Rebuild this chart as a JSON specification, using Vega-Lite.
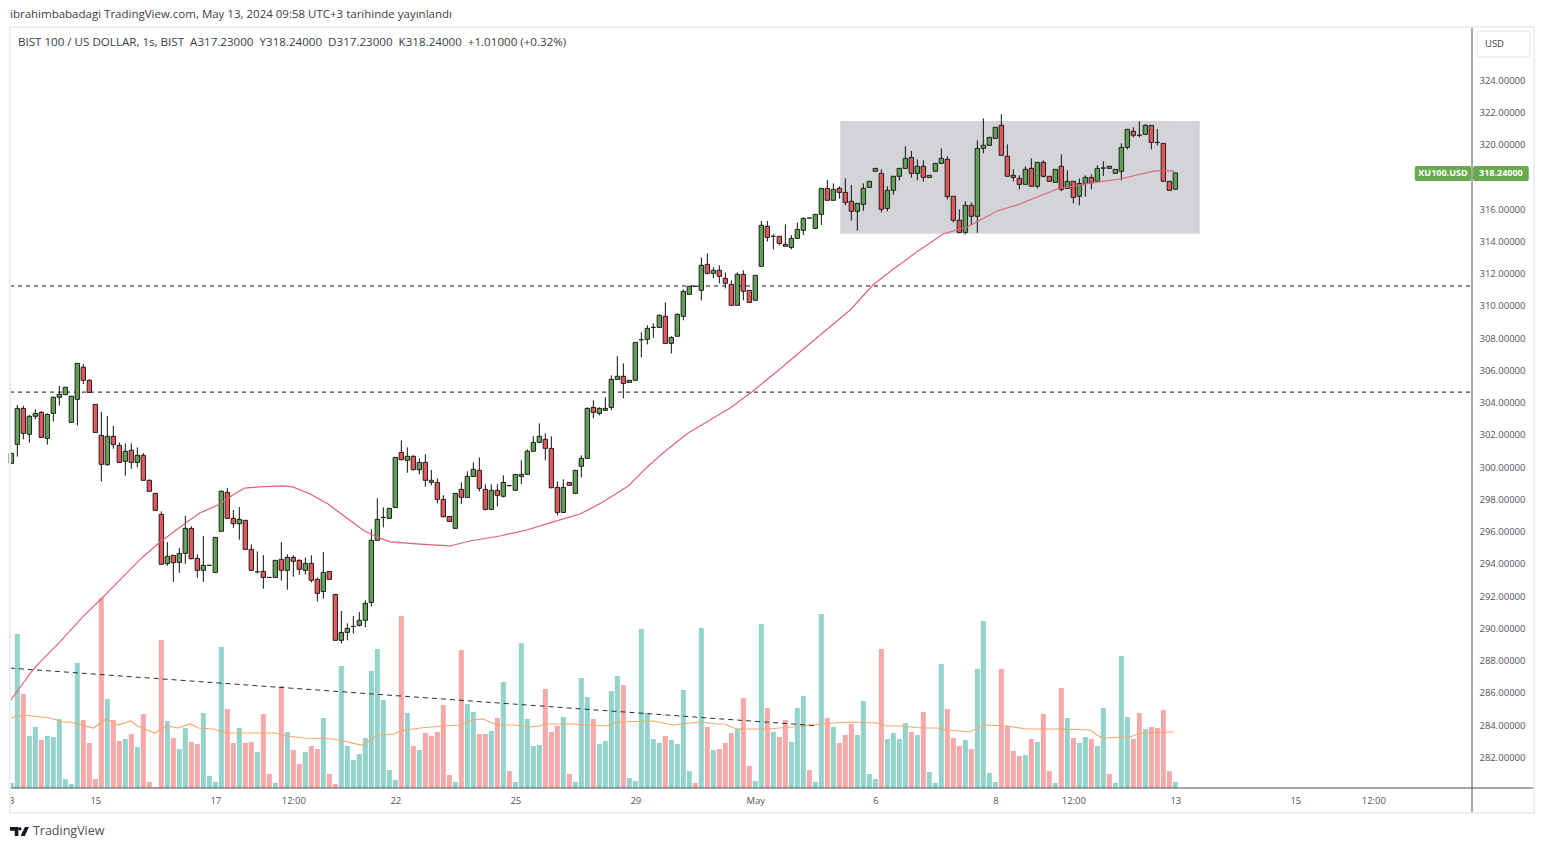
{
  "$schema": "https://vega.github.io/schema/vega-lite/v6.json",
  "width": 1462,
  "height": 760,
  "autosize": "none",
  "padding": {"left": 10, "top": 28, "right": 72, "bottom": 61},
  "background": "white",
  "config": {"view": {"stroke": null}, "font": "Open Sans"},
  "datasets": {
    "candles": [
      {"i":0,"o":300.23,"h":300.85,"l":300.23,"c":300.85,"v":5,"vd":"u"},
      {"i":1,"o":301.41,"h":303.85,"l":300.65,"c":303.64,"v":154,"vd":"u"},
      {"i":2,"o":303.64,"h":303.81,"l":301.72,"c":302.09,"v":94,"vd":"d"},
      {"i":3,"o":302.03,"h":303.23,"l":301.51,"c":303.15,"v":52,"vd":"u"},
      {"i":4,"o":303.15,"h":303.58,"l":302.96,"c":303.33,"v":61,"vd":"u"},
      {"i":5,"o":303.39,"h":303.48,"l":301.84,"c":301.84,"v":48,"vd":"d"},
      {"i":6,"o":301.78,"h":303.33,"l":301.39,"c":303.27,"v":52,"vd":"u"},
      {"i":7,"o":303.33,"h":304.37,"l":302.82,"c":304.33,"v":51,"vd":"u"},
      {"i":8,"o":304.33,"h":305.03,"l":303.81,"c":304.51,"v":69,"vd":"u"},
      {"i":9,"o":304.49,"h":304.95,"l":304.49,"c":304.95,"v":9,"vd":"u"},
      {"i":10,"o":302.77,"h":304.39,"l":302.77,"c":304.39,"v":4,"vd":"u"},
      {"i":11,"o":304.2,"h":306.43,"l":302.57,"c":306.43,"v":125,"vd":"u"},
      {"i":12,"o":306.19,"h":306.39,"l":305.15,"c":305.38,"v":68,"vd":"d"},
      {"i":13,"o":305.38,"h":305.44,"l":304.63,"c":304.63,"v":45,"vd":"d"},
      {"i":14,"o":303.89,"h":303.89,"l":302.15,"c":302.15,"v":9,"vd":"d"},
      {"i":15,"o":301.97,"h":303.42,"l":299.1,"c":300.17,"v":190,"vd":"d"},
      {"i":16,"o":300.15,"h":303.17,"l":300.09,"c":301.91,"v":89,"vd":"u"},
      {"i":17,"o":301.91,"h":302.55,"l":301.14,"c":301.39,"v":68,"vd":"d"},
      {"i":18,"o":301.35,"h":301.53,"l":300.29,"c":300.29,"v":47,"vd":"d"},
      {"i":19,"o":300.36,"h":301.47,"l":299.47,"c":300.98,"v":49,"vd":"u"},
      {"i":20,"o":301.04,"h":301.47,"l":299.9,"c":300.29,"v":54,"vd":"d"},
      {"i":21,"o":300.29,"h":301.22,"l":299.98,"c":300.73,"v":41,"vd":"u"},
      {"i":22,"o":300.73,"h":300.87,"l":299.18,"c":299.18,"v":74,"vd":"d"},
      {"i":23,"o":299.18,"h":299.24,"l":298.5,"c":298.5,"v":6,"vd":"d"},
      {"i":24,"o":298.37,"h":298.37,"l":297.32,"c":297.32,"v":1,"vd":"d"},
      {"i":25,"o":297.07,"h":297.26,"l":293.97,"c":293.97,"v":148,"vd":"d"},
      {"i":26,"o":294.01,"h":295.35,"l":293.89,"c":294.47,"v":67,"vd":"u"},
      {"i":27,"o":294.53,"h":294.53,"l":292.89,"c":294.07,"v":50,"vd":"d"},
      {"i":28,"o":294.09,"h":294.98,"l":293.45,"c":294.65,"v":39,"vd":"u"},
      {"i":29,"o":294.65,"h":296.97,"l":294.01,"c":296.2,"v":60,"vd":"u"},
      {"i":30,"o":296.2,"h":296.33,"l":294.28,"c":294.32,"v":46,"vd":"d"},
      {"i":31,"o":294.34,"h":294.59,"l":293.14,"c":293.6,"v":44,"vd":"d"},
      {"i":32,"o":293.6,"h":295.73,"l":292.89,"c":293.91,"v":75,"vd":"u"},
      {"i":33,"o":293.91,"h":293.91,"l":293.91,"c":293.91,"v":12,"vd":"u"},
      {"i":34,"o":293.47,"h":295.64,"l":293.47,"c":295.64,"v":6,"vd":"u"},
      {"i":35,"o":296.02,"h":298.56,"l":296.02,"c":298.5,"v":141,"vd":"u"},
      {"i":36,"o":298.43,"h":298.7,"l":296.82,"c":296.82,"v":79,"vd":"d"},
      {"i":37,"o":296.82,"h":297.34,"l":296.24,"c":296.49,"v":45,"vd":"d"},
      {"i":38,"o":296.49,"h":297.52,"l":295.5,"c":296.76,"v":60,"vd":"u"},
      {"i":39,"o":296.7,"h":296.7,"l":294.9,"c":294.9,"v":45,"vd":"d"},
      {"i":40,"o":294.9,"h":295.21,"l":293.6,"c":293.6,"v":46,"vd":"d"},
      {"i":41,"o":293.51,"h":294.77,"l":293.41,"c":293.51,"v":36,"vd":"u"},
      {"i":42,"o":293.53,"h":294.55,"l":292.46,"c":293.16,"v":74,"vd":"d"},
      {"i":43,"o":293.16,"h":293.16,"l":293.16,"c":293.16,"v":14,"vd":"d"},
      {"i":44,"o":293.16,"h":294.22,"l":293.16,"c":294.22,"v":5,"vd":"u"},
      {"i":45,"o":294.28,"h":295.35,"l":292.96,"c":293.6,"v":102,"vd":"d"},
      {"i":46,"o":293.6,"h":294.59,"l":292.4,"c":294.4,"v":56,"vd":"u"},
      {"i":47,"o":294.4,"h":294.53,"l":293.2,"c":294.16,"v":38,"vd":"d"},
      {"i":48,"o":294.22,"h":294.28,"l":293.33,"c":293.66,"v":24,"vd":"d"},
      {"i":49,"o":293.6,"h":294.4,"l":293.33,"c":294.03,"v":36,"vd":"u"},
      {"i":50,"o":294.03,"h":294.53,"l":292.85,"c":292.98,"v":42,"vd":"d"},
      {"i":51,"o":293.04,"h":293.16,"l":291.67,"c":292.17,"v":39,"vd":"d"},
      {"i":52,"o":292.29,"h":294.73,"l":291.84,"c":293.47,"v":70,"vd":"u"},
      {"i":53,"o":293.53,"h":293.53,"l":293.04,"c":293.04,"v":14,"vd":"d"},
      {"i":54,"o":292.11,"h":292.11,"l":289.26,"c":289.26,"v":4,"vd":"d"},
      {"i":55,"o":289.26,"h":291.08,"l":289.07,"c":289.75,"v":122,"vd":"u"},
      {"i":56,"o":289.75,"h":290.31,"l":289.26,"c":290,"v":42,"vd":"u"},
      {"i":57,"o":290.12,"h":290.77,"l":289.69,"c":290.12,"v":28,"vd":"u"},
      {"i":58,"o":290.19,"h":291.01,"l":290.12,"c":290.5,"v":34,"vd":"u"},
      {"i":59,"o":290.5,"h":291.74,"l":290.06,"c":291.55,"v":50,"vd":"u"},
      {"i":60,"o":291.61,"h":296.14,"l":291.36,"c":295.46,"v":117,"vd":"u"},
      {"i":61,"o":295.46,"h":298.06,"l":295.46,"c":296.76,"v":139,"vd":"u"},
      {"i":62,"o":296.88,"h":297.5,"l":296.26,"c":296.88,"v":88,"vd":"u"},
      {"i":63,"o":296.82,"h":297.44,"l":296.82,"c":297.44,"v":18,"vd":"u"},
      {"i":64,"o":297.5,"h":300.6,"l":297.5,"c":300.6,"v":8,"vd":"u"},
      {"i":65,"o":300.91,"h":301.66,"l":300.42,"c":300.46,"v":172,"vd":"d"},
      {"i":66,"o":300.42,"h":301.22,"l":299.65,"c":300.67,"v":75,"vd":"u"},
      {"i":67,"o":300.67,"h":300.73,"l":299.8,"c":299.84,"v":42,"vd":"d"},
      {"i":68,"o":299.84,"h":300.54,"l":299.55,"c":300.29,"v":38,"vd":"u"},
      {"i":69,"o":300.29,"h":300.79,"l":298.78,"c":299.18,"v":55,"vd":"d"},
      {"i":70,"o":299.18,"h":299.82,"l":298.87,"c":299.05,"v":52,"vd":"d"},
      {"i":71,"o":299.05,"h":299.3,"l":297.75,"c":298,"v":56,"vd":"d"},
      {"i":72,"o":298,"h":298.25,"l":296.88,"c":296.92,"v":83,"vd":"d"},
      {"i":73,"o":296.94,"h":296.94,"l":296.63,"c":296.63,"v":13,"vd":"d"},
      {"i":74,"o":296.2,"h":298.37,"l":296.2,"c":298.37,"v":6,"vd":"u"},
      {"i":75,"o":298.62,"h":299.05,"l":297.71,"c":298.12,"v":138,"vd":"d"},
      {"i":76,"o":298.12,"h":299.74,"l":298.12,"c":299.42,"v":84,"vd":"u"},
      {"i":77,"o":299.42,"h":300.29,"l":299.42,"c":299.86,"v":76,"vd":"u"},
      {"i":78,"o":299.8,"h":300.6,"l":298.49,"c":298.68,"v":54,"vd":"d"},
      {"i":79,"o":298.62,"h":298.93,"l":297.32,"c":297.38,"v":54,"vd":"d"},
      {"i":80,"o":297.38,"h":298.93,"l":297.38,"c":298.56,"v":57,"vd":"u"},
      {"i":81,"o":298.56,"h":298.93,"l":297.56,"c":298.25,"v":70,"vd":"d"},
      {"i":82,"o":298.19,"h":299.49,"l":298.12,"c":299.05,"v":106,"vd":"u"},
      {"i":83,"o":298.85,"h":298.85,"l":298.85,"c":298.85,"v":17,"vd":"d"},
      {"i":84,"o":298.56,"h":299.55,"l":298.56,"c":299.55,"v":6,"vd":"u"},
      {"i":85,"o":299.42,"h":300.42,"l":298.95,"c":299.55,"v":145,"vd":"u"},
      {"i":86,"o":299.55,"h":301.1,"l":299.55,"c":300.98,"v":69,"vd":"u"},
      {"i":87,"o":300.98,"h":301.91,"l":300.98,"c":301.53,"v":42,"vd":"u"},
      {"i":88,"o":301.53,"h":302.71,"l":301.47,"c":301.91,"v":43,"vd":"u"},
      {"i":89,"o":301.72,"h":302.09,"l":300.42,"c":301.16,"v":99,"vd":"d"},
      {"i":90,"o":301.16,"h":301.91,"l":298.68,"c":298.72,"v":56,"vd":"d"},
      {"i":91,"o":298.74,"h":299.11,"l":297.01,"c":297.19,"v":62,"vd":"d"},
      {"i":92,"o":297.19,"h":299.24,"l":297.19,"c":298.74,"v":71,"vd":"u"},
      {"i":93,"o":299.05,"h":299.05,"l":298.87,"c":298.87,"v":14,"vd":"d"},
      {"i":94,"o":298.37,"h":299.8,"l":298.37,"c":299.8,"v":6,"vd":"u"},
      {"i":95,"o":300.05,"h":300.73,"l":299.36,"c":300.54,"v":110,"vd":"u"},
      {"i":96,"o":300.54,"h":303.7,"l":300.54,"c":303.64,"v":91,"vd":"u"},
      {"i":97,"o":303.7,"h":304.14,"l":303.02,"c":303.39,"v":69,"vd":"d"},
      {"i":98,"o":303.33,"h":303.7,"l":303.21,"c":303.64,"v":44,"vd":"u"},
      {"i":99,"o":303.52,"h":304.32,"l":303.52,"c":303.64,"v":47,"vd":"u"},
      {"i":100,"o":303.7,"h":305.69,"l":303.52,"c":305.44,"v":97,"vd":"u"},
      {"i":101,"o":305.44,"h":306.87,"l":305.44,"c":305.63,"v":112,"vd":"u"},
      {"i":102,"o":305.63,"h":306.43,"l":304.26,"c":305.19,"v":103,"vd":"d"},
      {"i":103,"o":305.25,"h":305.38,"l":305.25,"c":305.38,"v":10,"vd":"u"},
      {"i":104,"o":305.38,"h":307.73,"l":305.38,"c":307.73,"v":7,"vd":"u"},
      {"i":105,"o":307.9,"h":308.35,"l":306.8,"c":307.9,"v":159,"vd":"u"},
      {"i":106,"o":307.92,"h":308.79,"l":307.61,"c":308.6,"v":75,"vd":"u"},
      {"i":107,"o":308.66,"h":308.91,"l":308.02,"c":308.66,"v":49,"vd":"u"},
      {"i":108,"o":308.66,"h":309.47,"l":308.66,"c":309.41,"v":45,"vd":"u"},
      {"i":109,"o":309.35,"h":310.21,"l":307.67,"c":307.67,"v":52,"vd":"d"},
      {"i":110,"o":307.67,"h":308.11,"l":307.05,"c":308.04,"v":48,"vd":"u"},
      {"i":111,"o":308.11,"h":309.53,"l":308.11,"c":309.47,"v":44,"vd":"u"},
      {"i":112,"o":309.35,"h":311.02,"l":309.1,"c":310.9,"v":98,"vd":"u"},
      {"i":113,"o":310.71,"h":311.21,"l":310.71,"c":311.21,"v":17,"vd":"u"},
      {"i":114,"o":311.21,"h":311.21,"l":311.21,"c":311.21,"v":5,"vd":"d"},
      {"i":115,"o":310.96,"h":313,"l":310.34,"c":312.51,"v":160,"vd":"u"},
      {"i":116,"o":312.57,"h":313.25,"l":311.95,"c":312.01,"v":61,"vd":"d"},
      {"i":117,"o":312.01,"h":312.39,"l":311.72,"c":312.2,"v":38,"vd":"u"},
      {"i":118,"o":312.2,"h":312.51,"l":311.39,"c":311.83,"v":39,"vd":"d"},
      {"i":119,"o":311.7,"h":312.07,"l":311.08,"c":311.39,"v":45,"vd":"d"},
      {"i":120,"o":311.33,"h":311.58,"l":310.03,"c":310.03,"v":55,"vd":"d"},
      {"i":121,"o":310.03,"h":312.07,"l":310.03,"c":311.95,"v":59,"vd":"u"},
      {"i":122,"o":311.95,"h":312.2,"l":310.34,"c":310.9,"v":90,"vd":"d"},
      {"i":123,"o":310.96,"h":310.96,"l":310.21,"c":310.21,"v":22,"vd":"d"},
      {"i":124,"o":310.34,"h":311.89,"l":310.34,"c":311.89,"v":7,"vd":"u"},
      {"i":125,"o":312.45,"h":315.26,"l":312.45,"c":314.99,"v":164,"vd":"u"},
      {"i":126,"o":314.93,"h":315.26,"l":313.98,"c":314.24,"v":80,"vd":"d"},
      {"i":127,"o":314.31,"h":314.43,"l":313.5,"c":314.31,"v":56,"vd":"u"},
      {"i":128,"o":314.31,"h":314.31,"l":313.75,"c":313.87,"v":51,"vd":"d"},
      {"i":129,"o":313.81,"h":315.05,"l":313.69,"c":313.69,"v":68,"vd":"d"},
      {"i":130,"o":313.62,"h":314.39,"l":313.5,"c":314.18,"v":46,"vd":"u"},
      {"i":131,"o":314.18,"h":315.17,"l":314.18,"c":314.74,"v":80,"vd":"u"},
      {"i":132,"o":314.68,"h":315.48,"l":314.39,"c":315.42,"v":92,"vd":"u"},
      {"i":133,"o":315.44,"h":315.44,"l":315.44,"c":315.44,"v":18,"vd":"d"},
      {"i":134,"o":314.8,"h":315.67,"l":314.8,"c":315.67,"v":6,"vd":"u"},
      {"i":135,"o":315.67,"h":317.28,"l":315.01,"c":317.28,"v":174,"vd":"u"},
      {"i":136,"o":317.28,"h":317.8,"l":316.54,"c":316.54,"v":70,"vd":"d"},
      {"i":137,"o":316.54,"h":317.59,"l":316.54,"c":317.22,"v":61,"vd":"u"},
      {"i":138,"o":317.28,"h":317.41,"l":316.64,"c":317.03,"v":45,"vd":"d"},
      {"i":139,"o":317.03,"h":317.9,"l":316.23,"c":316.41,"v":53,"vd":"d"},
      {"i":140,"o":316.48,"h":317.49,"l":315.28,"c":315.86,"v":64,"vd":"d"},
      {"i":141,"o":315.86,"h":316.35,"l":314.66,"c":316.35,"v":53,"vd":"u"},
      {"i":142,"o":316.29,"h":317.59,"l":315.9,"c":317.28,"v":87,"vd":"u"},
      {"i":143,"o":317.34,"h":317.72,"l":317.34,"c":317.72,"v":14,"vd":"u"},
      {"i":144,"o":318.34,"h":318.52,"l":318.34,"c":318.52,"v":9,"vd":"u"},
      {"i":145,"o":318.21,"h":318.46,"l":315.79,"c":315.98,"v":139,"vd":"d"},
      {"i":146,"o":316.04,"h":317.41,"l":315.86,"c":317.16,"v":49,"vd":"u"},
      {"i":147,"o":317.16,"h":318.03,"l":316.89,"c":318.03,"v":55,"vd":"u"},
      {"i":148,"o":318.03,"h":318.52,"l":317.78,"c":318.52,"v":49,"vd":"u"},
      {"i":149,"o":318.52,"h":319.89,"l":318.52,"c":319.14,"v":65,"vd":"u"},
      {"i":150,"o":319.2,"h":319.6,"l":317.94,"c":318.21,"v":56,"vd":"d"},
      {"i":151,"o":318.21,"h":319.08,"l":317.78,"c":318.65,"v":53,"vd":"u"},
      {"i":152,"o":318.65,"h":319.02,"l":317.7,"c":317.96,"v":76,"vd":"d"},
      {"i":153,"o":317.96,"h":318.09,"l":317.96,"c":318.09,"v":16,"vd":"u"},
      {"i":154,"o":318.34,"h":318.83,"l":318.34,"c":318.83,"v":5,"vd":"u"},
      {"i":155,"o":318.83,"h":319.76,"l":318.83,"c":319.14,"v":124,"vd":"u"},
      {"i":156,"o":319.08,"h":319.27,"l":316.6,"c":316.77,"v":79,"vd":"d"},
      {"i":157,"o":316.79,"h":316.79,"l":315.17,"c":315.3,"v":50,"vd":"d"},
      {"i":158,"o":315.3,"h":315.98,"l":314.55,"c":314.55,"v":42,"vd":"d"},
      {"i":159,"o":314.55,"h":316.48,"l":314.43,"c":316.23,"v":48,"vd":"u"},
      {"i":160,"o":316.23,"h":316.41,"l":314.99,"c":315.55,"v":39,"vd":"d"},
      {"i":161,"o":315.55,"h":320.26,"l":314.53,"c":319.76,"v":119,"vd":"u"},
      {"i":162,"o":319.76,"h":321.62,"l":319.45,"c":319.95,"v":167,"vd":"u"},
      {"i":163,"o":319.95,"h":320.44,"l":319.95,"c":320.44,"v":15,"vd":"u"},
      {"i":164,"o":320.38,"h":321.07,"l":320.38,"c":321.07,"v":6,"vd":"u"},
      {"i":165,"o":321.19,"h":321.87,"l":319.33,"c":319.33,"v":119,"vd":"d"},
      {"i":166,"o":319.27,"h":320.01,"l":318.03,"c":318.03,"v":62,"vd":"d"},
      {"i":167,"o":318.09,"h":318.46,"l":317.72,"c":317.96,"v":37,"vd":"d"},
      {"i":168,"o":317.9,"h":318.09,"l":317.22,"c":317.53,"v":32,"vd":"d"},
      {"i":169,"o":317.53,"h":318.65,"l":317.53,"c":318.46,"v":33,"vd":"u"},
      {"i":170,"o":318.52,"h":319.14,"l":317.41,"c":317.41,"v":49,"vd":"d"},
      {"i":171,"o":317.41,"h":318.89,"l":317.28,"c":318.89,"v":46,"vd":"u"},
      {"i":172,"o":318.89,"h":319.02,"l":317.96,"c":318.03,"v":74,"vd":"d"},
      {"i":173,"o":318.03,"h":318.03,"l":317.72,"c":317.72,"v":17,"vd":"d"},
      {"i":174,"o":317.65,"h":318.46,"l":317.65,"c":318.46,"v":5,"vd":"u"},
      {"i":175,"o":318.65,"h":319.39,"l":317.1,"c":317.22,"v":100,"vd":"d"},
      {"i":176,"o":317.28,"h":318.4,"l":317.28,"c":317.72,"v":70,"vd":"u"},
      {"i":177,"o":317.72,"h":317.72,"l":316.35,"c":316.72,"v":50,"vd":"d"},
      {"i":178,"o":316.79,"h":317.9,"l":316.23,"c":317.59,"v":45,"vd":"u"},
      {"i":179,"o":317.59,"h":318.09,"l":316.77,"c":317.96,"v":51,"vd":"u"},
      {"i":180,"o":317.96,"h":318.15,"l":317.22,"c":317.63,"v":49,"vd":"d"},
      {"i":181,"o":317.72,"h":318.71,"l":317.72,"c":318.52,"v":42,"vd":"u"},
      {"i":182,"o":318.54,"h":318.96,"l":318.05,"c":318.54,"v":80,"vd":"u"},
      {"i":183,"o":318.65,"h":318.65,"l":318.52,"c":318.52,"v":14,"vd":"d"},
      {"i":184,"o":318.21,"h":318.46,"l":318.21,"c":318.46,"v":5,"vd":"u"},
      {"i":185,"o":318.34,"h":320.07,"l":317.78,"c":319.82,"v":132,"vd":"u"},
      {"i":186,"o":319.82,"h":320.94,"l":319.7,"c":320.94,"v":71,"vd":"u"},
      {"i":187,"o":320.82,"h":321.07,"l":320.45,"c":320.57,"v":49,"vd":"d"},
      {"i":188,"o":320.57,"h":321.44,"l":320.45,"c":320.57,"v":75,"vd":"d"},
      {"i":189,"o":320.63,"h":321.25,"l":320.63,"c":321.19,"v":59,"vd":"u"},
      {"i":190,"o":321.19,"h":321.19,"l":319.7,"c":320.13,"v":61,"vd":"d"},
      {"i":191,"o":320.13,"h":320.96,"l":319.95,"c":320.13,"v":60,"vd":"d"},
      {"i":192,"o":320.07,"h":320.07,"l":317.72,"c":317.72,"v":78,"vd":"d"},
      {"i":193,"o":317.72,"h":317.72,"l":317.16,"c":317.16,"v":17,"vd":"d"},
      {"i":194,"o":317.23,"h":318.24,"l":317.23,"c":318.24,"v":6,"vd":"u"}
    ],
    "ma": [
      {"i":-0.1,"p":285.56},{"i":3.6,"p":287.42},{"i":4.8,"p":287.92},{"i":8.1,"p":289.16},{"i":11.9,"p":290.71},
      {"i":14.8,"p":291.76},{"i":18.6,"p":293.19},{"i":21.9,"p":294.43},{"i":24.8,"p":295.36},{"i":28.6,"p":296.41},
      {"i":31.4,"p":297.15},{"i":34.8,"p":297.71},{"i":36.9,"p":298.27},{"i":38.9,"p":298.7},{"i":41.4,"p":298.77},
      {"i":45.3,"p":298.83},{"i":46.9,"p":298.77},{"i":49.8,"p":298.33},{"i":52.8,"p":297.71},{"i":55.9,"p":296.84},
      {"i":58.6,"p":296.1},{"i":60.9,"p":295.67},{"i":63.1,"p":295.36},{"i":68.1,"p":295.23},{"i":73.1,"p":295.11},
      {"i":76.4,"p":295.42},{"i":81.4,"p":295.73},{"i":85.9,"p":296.1},{"i":90.3,"p":296.6},{"i":94.8,"p":297.09},
      {"i":98.6,"p":297.84},{"i":102.8,"p":298.83},{"i":106,"p":300.01},{"i":109,"p":301},{"i":112.8,"p":302.11},
      {"i":119.8,"p":303.66},{"i":123.4,"p":304.66},{"i":128.1,"p":306.08},{"i":134.8,"p":308.19},{"i":139.8,"p":309.74},
      {"i":143.6,"p":311.29},{"i":146.8,"p":312.22},{"i":150.9,"p":313.34},{"i":155.3,"p":314.45},{"i":159.3,"p":314.89},
      {"i":164.3,"p":315.88},{"i":168.1,"p":316.31},{"i":174.3,"p":317.24},{"i":179.8,"p":317.61},{"i":184.8,"p":317.86},
      {"i":187.6,"p":318.11},{"i":190.6,"p":318.36},{"i":193.8,"p":318.36}
    ],
    "volma": [
      {"i":0,"v":70},{"i":2,"v":73},{"i":6.4,"v":70},{"i":8.7,"v":66},{"i":9.8,"v":66},{"i":13.7,"v":60},{"i":15.8,"v":69},
      {"i":17.8,"v":63},{"i":19.9,"v":67},{"i":21,"v":62},{"i":23.9,"v":55},{"i":25.9,"v":62},{"i":27.8,"v":60},{"i":29.8,"v":64},
      {"i":31.2,"v":60},{"i":33.7,"v":59},{"i":35.9,"v":55},{"i":42,"v":55},{"i":43.9,"v":55},{"i":45.9,"v":52},{"i":48.7,"v":50},
      {"i":53.7,"v":49},{"i":58.4,"v":43},{"i":59.5,"v":46},{"i":60.9,"v":53},{"i":63.7,"v":54},{"i":64.8,"v":57},{"i":68.1,"v":60},
      {"i":72,"v":62},{"i":74.8,"v":63},{"i":76.7,"v":68},{"i":78.7,"v":69},{"i":80.9,"v":63},{"i":83.9,"v":63},{"i":86.4,"v":61},
      {"i":88.1,"v":62},{"i":88.9,"v":64},{"i":93.7,"v":64},{"i":99.2,"v":62},{"i":100.9,"v":66},{"i":107,"v":67},{"i":110.3,"v":63},
      {"i":114.8,"v":66},{"i":117.6,"v":64},{"i":118.9,"v":64},{"i":120.9,"v":59},{"i":125.9,"v":59},{"i":130.3,"v":61},{"i":131.4,"v":62},
      {"i":137,"v":65},{"i":139.8,"v":66},{"i":144.2,"v":65},{"i":145.9,"v":62},{"i":148.1,"v":62},{"i":151.7,"v":60},{"i":154.2,"v":60},
      {"i":155.9,"v":58},{"i":159.8,"v":56},{"i":162,"v":63},{"i":165.9,"v":62},{"i":169.2,"v":59},{"i":174.2,"v":59},{"i":179.8,"v":58},
      {"i":181.7,"v":50},{"i":186.4,"v":51},{"i":188.1,"v":55},{"i":193.7,"v":56}
    ]
  },
  "encoding": {
    "x": {
      "field": "i",
      "type": "quantitative",
      "title": null,
      "scale": {"domain": [-0.222, 243.44], "nice": false, "zero": false, "padding": 0},
      "axis": {
        "values": [0, 14, 34, 47, 64, 84, 104, 124, 144, 164, 177, 194, 214, 227],
        "labelExpr": "{'0':'3','14':'15','34':'17','47':'12:00','64':'22','84':'25','104':'29','124':'May','144':'6','164':'8','177':'12:00','194':'13','214':'15','227':'12:00'}[datum.value]",
        "domain": false,
        "ticks": false,
        "grid": false,
        "labelFontSize": 9.5,
        "labelColor": "#50535e",
        "labelPadding": 7,
        "labelFlush": false,
        "labelOverlap": false
      }
    }
  },
  "layer": [
    {
      "layer": [
        {
          "data": {"name": "candles"},
          "mark": {"type": "bar", "size": 5, "orient": "vertical"},
          "encoding": {
            "y": {"field": "v", "type": "quantitative", "stack": null, "scale": {"domain": [0, 760], "nice": false}, "axis": null},
            "color": {"field": "vd", "type": "nominal", "legend": null, "scale": {"domain": ["u", "d"], "range": ["#94d3cb", "#f6a9a9"]}}
          }
        },
        {
          "data": {"name": "volma"},
          "mark": {"type": "line", "color": "#f7a66b", "strokeWidth": 1.2},
          "encoding": {
            "y": {"field": "v", "type": "quantitative", "scale": {"domain": [0, 760], "nice": false}, "axis": null}
          }
        }
      ]
    },
    {
      "layer": [
        {
          "data": {"values": [{"i": 138.15, "i2": 198.05, "p": 321.46, "p2": 314.47}]},
          "mark": {"type": "rect", "color": "#d2d4d8"},
          "encoding": {
            "x2": {"field": "i2"},
            "y": {
              "field": "p",
              "type": "quantitative",
              "title": null,
              "scale": {"domain": [280.104, 327.224], "nice": false, "zero": false},
              "axis": {
                "orient": "right",
                "values": [282, 284, 286, 288, 290, 292, 294, 296, 298, 300, 302, 304, 306, 308, 310, 312, 314, 316, 320, 322, 324],
                "tickCount": 40,
                "format": ".5f",
                "domain": false,
                "ticks": false,
                "grid": false,
                "labelFontSize": 9.5,
                "labelColor": "#50535e",
                "labelPadding": 7,
                "labelOverlap": false
              }
            },
            "y2": {"field": "p2"}
          }
        },
        {
          "data": {"values": [{"i": -0.222, "i2": 243.44, "p": 311.23}, {"i": -0.222, "i2": 243.44, "p": 304.65}]},
          "mark": {"type": "rule", "color": "#111111", "strokeWidth": 1, "strokeDash": [4, 4]},
          "encoding": {
            "x2": {"field": "i2"},
            "y": {"field": "p", "type": "quantitative", "title": null, "scale": {"domain": [280.104, 327.224], "nice": false, "zero": false}}
          }
        },
        {
          "data": {"values": [{"i": -0.222, "p": 287.54}, {"i": 134, "p": 283.97}]},
          "mark": {"type": "line", "color": "#2a2e39", "strokeWidth": 1, "strokeDash": [5, 4]},
          "encoding": {
            "y": {"field": "p", "type": "quantitative", "title": null, "scale": {"domain": [280.104, 327.224], "nice": false, "zero": false}}
          }
        },
        {
          "data": {"name": "candles"},
          "mark": {"type": "rule", "color": "#111111", "strokeWidth": 1},
          "encoding": {
            "y": {"field": "l", "type": "quantitative", "title": null, "scale": {"domain": [280.104, 327.224], "nice": false, "zero": false}},
            "y2": {"field": "h"}
          }
        },
        {
          "data": {"name": "candles"},
          "mark": {"type": "bar", "size": 4.4, "orient": "vertical", "stroke": "#111111", "strokeWidth": 0.9},
          "encoding": {
            "y": {"field": "o", "type": "quantitative", "title": null, "scale": {"domain": [280.104, 327.224], "nice": false, "zero": false}},
            "y2": {"field": "c"},
            "fill": {"condition": {"test": "datum.c >= datum.o", "value": "#62a055"}, "value": "#e25858"}
          }
        },
        {
          "data": {"name": "ma"},
          "mark": {"type": "line", "color": "#e2607a", "strokeWidth": 1.2},
          "encoding": {
            "y": {"field": "p", "type": "quantitative", "title": null, "scale": {"domain": [280.104, 327.224], "nice": false, "zero": false}}
          }
        },
        {
          "data": {"values": [{"i": -0.222, "p": 280.104, "i2": 253.8}]},
          "mark": {"type": "rule", "color": "#50535e", "strokeWidth": 1},
          "encoding": {
            "x2": {"field": "i2"},
            "y": {"field": "p", "type": "quantitative", "title": null, "scale": {"domain": [280.104, 327.224], "nice": false, "zero": false}}
          }
        },
        {
          "data": {"values": [{"i": 243.44, "p": 327.224, "p2": 278.55}]},
          "mark": {"type": "rule", "color": "#50535e", "strokeWidth": 1},
          "encoding": {
            "y": {"field": "p", "type": "quantitative", "title": null, "scale": {"domain": [280.104, 327.224], "nice": false, "zero": false}},
            "y2": {"field": "p2"}
          }
        },
        {
          "data": {"values": [
            {"i": -0.222, "i2": 253.8, "p": 327.29, "p2": 278.55, "k": "frame"}
          ]},
          "mark": {"type": "rect", "fillOpacity": 0, "stroke": "#eceef1", "strokeWidth": 2},
          "encoding": {
            "x2": {"field": "i2"},
            "y": {"field": "p", "type": "quantitative", "title": null, "scale": {"domain": [280.104, 327.224], "nice": false, "zero": false}},
            "y2": {"field": "p2"}
          }
        },
        {
          "data": {"values": [{"i": 244.3, "i2": 253.1, "p": 327.04, "p2": 325.43}]},
          "mark": {"type": "rect", "fill": "white", "stroke": "#ecedf0", "strokeWidth": 1.5, "cornerRadius": 3},
          "encoding": {
            "x2": {"field": "i2"},
            "y": {"field": "p", "type": "quantitative", "title": null, "scale": {"domain": [280.104, 327.224], "nice": false, "zero": false}},
            "y2": {"field": "p2"}
          }
        },
        {
          "data": {"values": [
            {"i": 233.9, "i2": 243.3, "p": 318.67, "p2": 317.74},
            {"i": 243.6, "i2": 252.9, "p": 318.67, "p2": 317.74}
          ]},
          "mark": {"type": "rect", "color": "#6aaa4f", "cornerRadius": 2},
          "encoding": {
            "x2": {"field": "i2"},
            "y": {"field": "p", "type": "quantitative", "title": null, "scale": {"domain": [280.104, 327.224], "nice": false, "zero": false}},
            "y2": {"field": "p2"}
          }
        },
        {
          "data": {"values": [
            {"i": 238.6, "p": 318.24, "t": "XU100.USD"},
            {"i": 248.25, "p": 318.24, "t": "318.24000"}
          ]},
          "mark": {"type": "text", "color": "white", "fontWeight": "bold", "fontSize": 9, "align": "center", "baseline": "middle"},
          "encoding": {
            "y": {"field": "p", "type": "quantitative", "title": null, "scale": {"domain": [280.104, 327.224], "nice": false, "zero": false}},
            "text": {"field": "t"}
          }
        },
        {
          "data": {"values": [
            {"i": -0.222, "p": 328.03, "t": "ibrahimbabadagi TradingView.com, May 13, 2024 09:58 UTC+3 tarihinde yayınlandı", "s": 11.5, "col": "#3a3d46"},
            {"i": 1.1, "p": 326.31, "t": "BIST 100 / US DOLLAR, 1s, BIST \u00a0A317.23000 \u00a0Y318.24000 \u00a0D317.23000 \u00a0K318.24000 \u00a0+1.01000 (+0.32%)", "s": 11.6, "col": "#3a3d46"},
            {"i": 245.6, "p": 326.23, "t": "USD", "s": 9.5, "col": "#3a3d46"},
            {"i": 3.6, "p": 277.44, "t": "TradingView", "s": 12.5, "col": "#4a4e58"}
          ]},
          "mark": {"type": "text", "align": "left", "baseline": "middle"},
          "encoding": {
            "y": {"field": "p", "type": "quantitative", "title": null, "scale": {"domain": [280.104, 327.224], "nice": false, "zero": false}},
            "text": {"field": "t"},
            "size": {"field": "s", "type": "quantitative", "scale": null, "legend": null},
            "color": {"field": "col", "type": "nominal", "scale": null, "legend": null}
          }
        },
        {
          "data": {"values": [{"i": 1.36, "p": 277.41}]},
          "mark": {
            "type": "point",
            "filled": true,
            "opacity": 1,
            "color": "#131722",
            "size": 361,
            "shape": "M-1,-0.47H-0.12V0.47H-0.5V-0.08H-1Z M0.22,-0.28A0.17,0.17 0 1 0 -0.12,-0.28A0.17,0.17 0 1 0 0.22,-0.28Z M1,-0.47L0.55,0.47H0.12L0.57,-0.47Z"
          },
          "encoding": {
            "y": {"field": "p", "type": "quantitative", "title": null, "scale": {"domain": [280.104, 327.224], "nice": false, "zero": false}}
          }
        }
      ]
    }
  ],
  "resolve": {"scale": {"y": "independent"}, "axis": {"y": "independent"}}
}
